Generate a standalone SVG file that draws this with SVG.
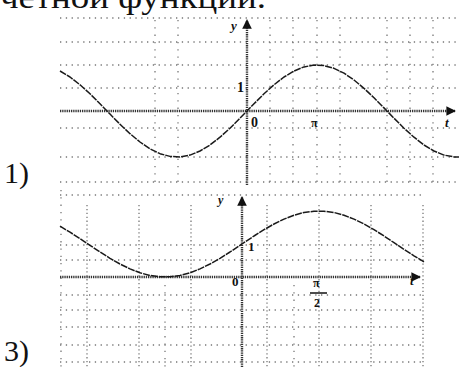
<svg xmlns="http://www.w3.org/2000/svg" width="459" height="367" viewBox="0 0 459 367">
<style>
.ser{font-family:'Liberation Serif','Times New Roman',Times,serif}
.lbl{font-weight:bold;fill:#111}
.hdot{stroke:#777;stroke-width:1.3;stroke-dasharray:1.3 4.5;fill:none}
.vdot{stroke:#777;stroke-width:1.3;stroke-dasharray:1.3 6;fill:none}
.axis{stroke:#333;stroke-width:2.4;stroke-dasharray:1.3 0.9;fill:none}
.curve{stroke:#1a1a1a;stroke-width:1.5;stroke-dasharray:7 1;fill:none;stroke-linejoin:round}
</style>
<defs>
<marker id="arr" viewBox="0 0 10 10" refX="9" refY="5" markerWidth="4" markerHeight="4" orient="auto-start-reverse">
<path d="M0,0 L10,5 L0,10 z" fill="#111"/>
</marker>
</defs>
<rect width="459" height="367" fill="#fff"/>
<text class="ser" fill="#111" x="0" y="8" font-size="32" textLength="266" lengthAdjust="spacingAndGlyphs">четной функции.</text>
<text class="ser" fill="#111" x="4" y="183" font-size="30">1)</text>
<text class="ser" fill="#111" x="4" y="361" font-size="30">3)</text>

<g id="graph1" class="ser">
<g id="grid1">
<path class="hdot" d="M60,18H459M60,42H459M60,65H459M60,88H459M60,128H459M60,157H459M60,182H459"/>
<path class="vdot" d="M155,20V185M178,20V185M270,20V185M293,20V185M317,20V185M340,20V185M387,20V185M410,20V185M433,20V185"/>
</g>
<g id="axes1">
<line class="axis" x1="60" y1="111" x2="455" y2="111" marker-end="url(#arr)"/>
<line class="axis" x1="247" y1="185" x2="247" y2="20" marker-end="url(#arr)"/>
</g>
<polyline class="curve" points="60,71 70,77 80,84.8 90,93.8 100,103.8 110,114.1 120,124.2 130,133.7 140,142 150,148.8 160,153.7 170,156.4 180,156.9 190,155.1 200,151 210,145 220,137.2 230,128.2 240,118.2 247,111 254,103.8 264,93.8 274,84.8 284,77 294,71 304,66.9 314,65.1 324,65.6 334,68.3 344,73.2 354,80 364,88.3 374,97.8 384,107.9 394,118.2 404,128.2 414,137.2 424,145 434,151 444,155.1 454,156.9 459,157"/>
<g id="labels1">
<text class="lbl" x="231" y="30" font-size="13" font-style="italic">y</text>
<text class="lbl" x="237" y="92" font-size="14">1</text>
<text class="lbl" x="251" y="127" font-size="14">0</text>
<text class="lbl" x="311" y="127" font-size="12">π</text>
<text class="lbl" x="445" y="127" font-size="13" font-style="italic">t</text>
</g>
</g>

<g id="graph2" class="ser">
<g id="grid2">
<path class="hdot" d="M60,195H423M60,245H423M60,260H423M60,295H423M60,310H423M60,327H423M60,345H423M60,362H423"/>
<path class="vdot" style="stroke-dasharray:1.3 2.6" d="M87,205V367M139,205V367M191,205V367M267,205V367M319,205V367M371,205V367M423,205V367"/>
<path class="vdot" d="M61,190V367M165,285V367M294,285V367"/>
</g>
<g id="axes2">
<line class="axis" x1="60" y1="277" x2="420" y2="277" marker-end="url(#arr)"/>
<line class="axis" x1="242" y1="367" x2="242" y2="197" marker-end="url(#arr)"/>
</g>
<polyline class="curve" points="60,226.2 70,232.2 80,238.6 90,245.3 100,252 110,258.3 120,264 130,268.9 140,272.8 150,275.5 160,276.8 170,276.8 180,275.5 190,272.8 200,268.9 210,264 220,258.3 230,252 242,244 254,236 264,229.7 274,224 284,219.1 294,215.2 304,212.5 314,211.2 324,211.2 334,212.5 344,215.2 354,219.1 364,224 374,229.7 384,236 394,242.7 404,249.4 414,255.8 424,261.8"/>
<g id="labels2">
<text class="lbl" x="218" y="204" font-size="12" font-style="italic">y</text>
<text class="lbl" x="248" y="251" font-size="13">1</text>
<text class="lbl" x="232" y="286" font-size="13">0</text>
<text class="lbl" x="313" y="287" font-size="12">π</text>
<line x1="310" y1="293" x2="327" y2="293" stroke="#111" stroke-width="1.5"/>
<text class="lbl" x="314" y="307" font-size="12">2</text>
<text class="lbl" x="410" y="285" font-size="13" font-style="italic">t</text>
</g>
</g>
</svg>
